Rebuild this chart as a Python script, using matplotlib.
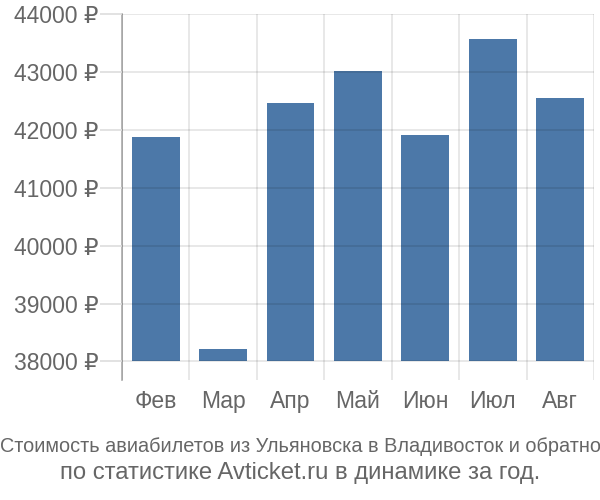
#!/usr/bin/env python3
"""Avia ticket prices Ulyanovsk -> Vladivostok by month (bar chart)."""
import matplotlib
matplotlib.use("Agg")
import matplotlib.pyplot as plt
import numpy as np

# --- data ---------------------------------------------------------------------
months = ["Фев", "Мар", "Апр", "Май", "Июн", "Июл", "Авг"]
prices = [41880, 38220, 42470, 43020, 41905, 43565, 42545]
y_ticks = [38000, 39000, 40000, 41000, 42000, 43000, 44000]
caption_1 = "Стоимость авиабилетов из Ульяновска в Владивосток и обратно"
caption_2 = "по статистике Avticket.ru в динамике за год."

# --- style --------------------------------------------------------------------
BAR_COLOUR = "#4c78a8"
TEXT_COLOUR = "#666666"
GRID_ALPHA = 0.11
BASE = 38000

plt.rcParams["font.family"] = ["Liberation Sans", "DejaVu Sans"]

fig = plt.figure(figsize=(6, 5), dpi=100)
ax = fig.add_axes([0.2033, 0.24, 0.7867, 0.732])

x = np.arange(len(months))
ax.bar(x, np.array(prices) - BASE, bottom=BASE, width=0.71,
       color=BAR_COLOUR, zorder=1)

ax.set_xlim(-0.5, len(months) - 0.5)
ax.set_ylim(37680, 44000)

ax.set_yticks(y_ticks)
ax.set_yticklabels([f"{v} ₽" for v in y_ticks])
ax.set_xticks(x)
ax.set_xticklabels(months)
ax.set_xticks(np.arange(-0.5, len(months)), minor=True)

ax.tick_params(axis="y", length=16, width=1.2, color="#dddddd", pad=1,
               labelsize=16.5, labelcolor=TEXT_COLOUR)
ax.tick_params(axis="x", which="major", length=0, pad=7,
               labelsize=16.5, labelcolor=TEXT_COLOUR)
ax.tick_params(axis="x", which="minor", length=0)

ax.set_axisbelow(False)
ax.grid(axis="y", which="major", color="black", alpha=GRID_ALPHA,
        linewidth=1.2, zorder=3)
ax.grid(axis="x", which="minor", color="black", alpha=GRID_ALPHA,
        linewidth=1.2, zorder=3)

for side in ("top", "right", "bottom"):
    ax.spines[side].set_visible(False)
ax.spines["left"].set_color("#aaaaaa")
ax.spines["left"].set_linewidth(1.2)

fig.text(0.5, 1 - 447 / 500, caption_1, ha="center", va="center",
         fontsize=14.3, color=TEXT_COLOUR)
fig.text(0.5, 1 - 473 / 500, caption_2, ha="center", va="center",
         fontsize=17.2, color=TEXT_COLOUR)

fig.savefig("out.png", dpi=100, facecolor="white")
